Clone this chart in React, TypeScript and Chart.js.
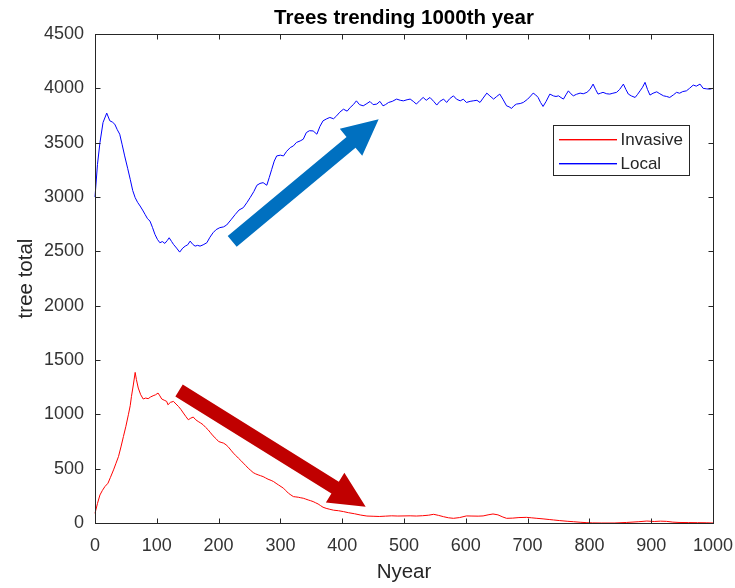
import React, { useEffect, useRef } from "react";
import { Chart, registerables } from "chart.js";

Chart.register(...registerables);

const titleText = "Trees trending 1000th year";
const xTitle = "Nyear";
const yTitle = "tree total";
const xTicks = [0, 100, 200, 300, 400, 500, 600, 700, 800, 900, 1000];
const yTicks = [0, 500, 1000, 1500, 2000, 2500, 3000, 3500, 4000, 4500];

const localYears = [
  0, 4, 8, 13, 19, 24, 28, 32, 36, 40, 44, 48, 53, 57, 61, 65, 69, 73, 77, 81, 85, 89, 93, 97, 101, 105, 109, 113, 117, 120,
  124, 127, 132, 137, 142, 146, 150, 154, 158, 162, 166, 170, 175, 181, 186, 191, 196, 202, 208, 213, 220, 227, 233, 240,
  246, 251, 257, 262, 267, 272, 278, 282, 286, 290, 294, 300, 305, 310, 316, 321, 326, 332, 337, 342, 347, 353, 359, 364,
  369, 375, 380, 386, 391, 396, 402, 408, 413, 418, 423, 428, 434, 440, 445, 450, 456, 461, 466, 470, 475, 481, 488, 494,
  499, 505, 510, 515, 520, 526, 531, 536, 542, 548, 553, 558, 564, 569, 574, 580, 585, 591, 596, 601, 607, 612, 618, 623,
  628, 634, 639, 645, 650, 655, 660, 666, 670, 674, 678, 682, 688, 693, 700, 705, 709, 713, 717, 721, 725, 730, 736, 742,
  746, 750, 754, 758, 762, 766, 770, 774, 779, 785, 790, 796, 801, 806, 810, 814, 818, 822, 828, 833, 838, 844, 849, 855,
  859, 863, 868, 874, 878, 882, 886, 890, 894, 898, 903, 909, 914, 920, 925, 930, 936, 941, 946, 951, 957, 962, 968, 973,
  979, 984, 990, 995, 1000,
];
const localValues = [
  3000, 3300, 3500, 3686, 3772, 3701, 3690, 3670, 3620, 3578, 3480, 3378, 3260, 3163, 3060, 2994, 2950, 2917, 2880, 2840,
  2800, 2778, 2720, 2656, 2610, 2579, 2590, 2573, 2600, 2625, 2590, 2564, 2530, 2493, 2530, 2548, 2560, 2594, 2565, 2548,
  2555, 2548, 2560, 2579, 2630, 2671, 2700, 2718, 2725, 2742, 2790, 2840, 2880, 2902, 2950, 2994, 3050, 3108, 3125, 3132,
  3108, 3180, 3255, 3330, 3378, 3385, 3378, 3420, 3455, 3470, 3502, 3516, 3532, 3593, 3610, 3608, 3578, 3650, 3701, 3720,
  3732, 3720, 3747, 3780, 3808, 3790, 3824, 3850, 3885, 3850, 3839, 3860, 3879, 3850, 3855, 3880, 3839, 3850, 3870, 3880,
  3901, 3890, 3885, 3895, 3901, 3880, 3855, 3890, 3916, 3890, 3916, 3880, 3846, 3880, 3901, 3870, 3905, 3931, 3900, 3885,
  3900, 3870, 3880, 3885, 3890, 3870, 3910, 3956, 3930, 3901, 3925, 3947, 3900, 3839, 3830, 3815, 3840, 3855, 3860, 3870,
  3900, 3930, 3956, 3940, 3916, 3870, 3833, 3880, 3947, 3930, 3925, 3931, 3915, 3901, 3940, 3977, 3950, 3931, 3945, 3956,
  3950, 3963, 3990, 4039, 3990, 3947, 3955, 3963, 3950, 3947, 3955, 3963, 3990, 4039, 3990, 3947, 3930, 3916, 3945, 3977,
  4010, 4055, 3990, 3938, 3955, 3968, 3950, 3931, 3925, 3916, 3940, 3963, 3955, 3970, 3977, 4000, 4030, 4020, 4039, 4000,
  3995, 3993, 4000,
];

const invasiveYears = [
  0, 4, 8, 12, 16, 21, 25, 30, 34, 38, 42, 46, 50, 54, 57, 59, 62, 65, 67, 70, 74, 78, 82, 86, 90, 94, 98, 102, 105, 108,
  112, 116, 118, 122, 127, 131, 135, 139, 143, 147, 151, 155, 159, 163, 167, 171, 175, 179, 183, 187, 191, 196, 200, 204,
  208, 212, 216, 220, 224, 228, 232, 236, 240, 244, 248, 252, 256, 260, 264, 268, 272, 276, 280, 285, 289, 293, 297, 301,
  305, 309, 313, 317, 321, 325, 329, 333, 337, 341, 345, 349, 353, 357, 361, 365, 369, 374, 380, 386, 394, 402, 410, 420,
  430, 440, 450, 460, 470, 480, 490, 500, 510, 520, 530, 540, 548, 556, 564, 572, 580, 590, 601, 610, 620, 628, 636, 644,
  652, 660, 666, 676, 686, 698, 706, 715, 725, 735, 742, 752, 764, 774, 785, 796, 805, 820, 840, 860, 880, 893, 905, 915,
  925, 935, 945, 960, 975, 990, 1000,
];
const invasiveValues = [
  89, 180, 258, 300, 335, 366, 420, 489, 550, 611, 700, 796, 890, 996, 1080, 1165, 1270, 1386, 1320, 1242, 1180, 1141,
  1150, 1144, 1160, 1171, 1180, 1196, 1170, 1141, 1130, 1119, 1088, 1110, 1119, 1095, 1073, 1045, 1012, 980, 950, 965, 975,
  950, 934, 920, 904, 880, 858, 830, 802, 775, 750, 742, 735, 720, 698, 670, 643, 620, 597, 575, 551, 528, 504, 484, 464,
  452, 443, 435, 427, 415, 403, 392, 381, 365, 350, 335, 320, 297, 274, 258, 243, 240, 237, 232, 228, 220, 212, 205, 197,
  186, 175, 160, 145, 135, 126, 118, 113, 105, 95, 85, 73, 64, 62, 60, 63, 66, 64, 65, 66, 64, 67, 72, 80, 70, 58, 48, 43,
  50, 65, 64, 63, 65, 75, 83, 75, 55, 43, 45, 50, 52, 48, 43, 38, 32, 28, 22, 16, 12, 7, 3, 1, 0, 0, 5, 12, 18, 14, 17, 15,
  8, 5, 4, 3, 2, 0,
];

const seriesLabels = ["Invasive", "Local"];
const seriesColors = ["#FF0000", "#0000FF"];

// Annotation arrows (data units): tail -> tip
const arrowTailX = [222, 136];
const arrowTailY = [2591, 1219];
const arrowTipX = [459, 438];
const arrowTipY = [3716, 150];
const arrowColors = ["#0070C0", "#C00000"];

const FONT = '"Liberation Sans", Arial, Helvetica, sans-serif';
const AXIS_COLOR = "#262626";

function drawArrow(ctx: CanvasRenderingContext2D, x0: number, y0: number, x1: number, y1: number, color: string) {
  const shaftW = 14;
  const headW = 35;
  const headL = 36;
  const dx = x1 - x0;
  const dy = y1 - y0;
  const len = Math.hypot(dx, dy);
  const ux = dx / len;
  const uy = dy / len;
  const nx = -uy;
  const ny = ux;
  const bx = x1 - ux * headL;
  const by = y1 - uy * headL;
  ctx.save();
  ctx.fillStyle = color;
  ctx.beginPath();
  ctx.moveTo(x0 + (nx * shaftW) / 2, y0 + (ny * shaftW) / 2);
  ctx.lineTo(bx + (nx * shaftW) / 2, by + (ny * shaftW) / 2);
  ctx.lineTo(bx + (nx * headW) / 2, by + (ny * headW) / 2);
  ctx.lineTo(x1, y1);
  ctx.lineTo(bx - (nx * headW) / 2, by - (ny * headW) / 2);
  ctx.lineTo(bx - (nx * shaftW) / 2, by - (ny * shaftW) / 2);
  ctx.lineTo(x0 - (nx * shaftW) / 2, y0 - (ny * shaftW) / 2);
  ctx.closePath();
  ctx.fill();
  ctx.restore();
}

const overlayPlugin = {
  id: "matlabOverlay",
  afterDatasetsDraw(chart: any) {
    const ctx: CanvasRenderingContext2D = chart.ctx;
    const a = chart.chartArea;
    const xs = chart.scales.x;
    const ys = chart.scales.y;

    // arrows
    for (let i = 0; i < arrowColors.length; i++) {
      drawArrow(
        ctx,
        xs.getPixelForValue(arrowTailX[i]),
        ys.getPixelForValue(arrowTailY[i]),
        xs.getPixelForValue(arrowTipX[i]),
        ys.getPixelForValue(arrowTipY[i]),
        arrowColors[i]
      );
    }

    const L = Math.round(a.left) + 0.5;
    const R = Math.round(a.right) + 0.5;
    const T = Math.round(a.top) + 0.5;
    const B = Math.round(a.bottom) + 0.5;

    ctx.save();
    ctx.strokeStyle = AXIS_COLOR;
    ctx.lineWidth = 1;
    ctx.strokeRect(L, T, R - L, B - T);
    const tl = 5;
    ctx.beginPath();
    for (const v of xTicks) {
      const px = Math.round(xs.getPixelForValue(v)) + 0.5;
      ctx.moveTo(px, B);
      ctx.lineTo(px, B - tl);
      ctx.moveTo(px, T);
      ctx.lineTo(px, T + tl);
    }
    for (const v of yTicks) {
      const py = Math.round(ys.getPixelForValue(v)) + 0.5;
      ctx.moveTo(L, py);
      ctx.lineTo(L + tl, py);
      ctx.moveTo(R, py);
      ctx.lineTo(R - tl, py);
    }
    ctx.stroke();

    // title
    const cx = (a.left + a.right) / 2;
    ctx.fillStyle = "#000";
    ctx.textAlign = "center";
    ctx.textBaseline = "middle";
    ctx.font = `bold 20.5px ${FONT}`;
    ctx.fillText(titleText, cx, 18);

    // axis titles
    ctx.fillStyle = AXIS_COLOR;
    ctx.font = `20.5px ${FONT}`;
    ctx.fillText(xTitle, cx, 572);
    ctx.save();
    ctx.translate(26, (a.top + a.bottom) / 2);
    ctx.rotate(-Math.PI / 2);
    ctx.fillText(yTitle, 0, 0);
    ctx.restore();

    // legend
    const bw = 136;
    const bh = 50;
    const bxL = Math.round(a.right) - 24 - bw + 0.5;
    const byT = Math.round(a.top) + 91 + 0.5;
    ctx.fillStyle = "#fff";
    ctx.fillRect(bxL, byT, bw, bh);
    ctx.strokeStyle = AXIS_COLOR;
    ctx.strokeRect(bxL, byT, bw, bh);
    ctx.font = `17px ${FONT}`;
    ctx.textAlign = "left";
    for (let i = 0; i < seriesLabels.length; i++) {
      const ly = Math.round(byT + 13 + i * 24.5);
      ctx.fillStyle = seriesColors[i];
      ctx.fillRect(Math.round(bxL) + 5, ly, 58, 1.4);
      ctx.fillStyle = AXIS_COLOR;
      ctx.fillText(seriesLabels[i], bxL + 67, ly + 1.5);
    }
    ctx.restore();
  },
};

export default function App() {
  const canvasRef = useRef<HTMLCanvasElement | null>(null);

  useEffect(() => {
    const canvas = canvasRef.current;
    if (!canvas) return;
    const chart = new Chart(canvas, {
      type: "line",
      data: {
        datasets: [
          {
            label: seriesLabels[0],
            data: invasiveYears.map((yr, i) => ({ x: yr, y: invasiveValues[i] })),
            borderColor: seriesColors[0],
            borderWidth: 1,
            pointRadius: 0,
            tension: 0,
            fill: false,
            clip: false,
          },
          {
            label: seriesLabels[1],
            data: localYears.map((yr, i) => ({ x: yr, y: localValues[i] })),
            borderColor: seriesColors[1],
            borderWidth: 1,
            pointRadius: 0,
            tension: 0,
            fill: false,
            clip: false,
          },
        ],
      },
      options: {
        responsive: false,
        animation: false,
        devicePixelRatio: 1,
        layout: { padding: { top: 34, right: 22, bottom: 0, left: 0 } },
        plugins: {
          legend: { display: false },
          title: { display: false },
          tooltip: { enabled: false },
        },
        scales: {
          x: {
            type: "linear",
            min: 0,
            max: 1000,
            afterBuildTicks: (s: any) => {
              s.ticks = xTicks.map((v) => ({ value: v }));
            },
            ticks: {
              color: "#333",
              font: { family: FONT, size: 18 },
              padding: 12,
              maxRotation: 0,
              autoSkip: false,
              callback: (v: any) => String(v),
            },
            grid: { display: false, drawTicks: false },
            border: { display: false },
            afterFit: (s: any) => {
              s.height = 65;
              s.paddingLeft = 0;
              s.paddingRight = 0;
            },
          },
          y: {
            type: "linear",
            min: 0,
            max: 4500,
            afterBuildTicks: (s: any) => {
              s.ticks = yTicks.map((v) => ({ value: v }));
            },
            ticks: {
              color: "#333",
              font: { family: FONT, size: 18 },
              padding: 11,
              autoSkip: false,
              callback: (v: any) => String(v),
            },
            grid: { display: false, drawTicks: false },
            border: { display: false },
            afterFit: (s: any) => {
              s.width = 95;
              s.paddingTop = 0;
              s.paddingBottom = 0;
            },
          },
        },
      },
      plugins: [overlayPlugin],
    } as any);
    return () => chart.destroy();
  }, []);

  return (
    <div style={{ position: "fixed", left: 0, top: 0, width: 735, height: 588, background: "#fff" }}>
      <canvas ref={canvasRef} width={735} height={588} style={{ display: "block" }} />
    </div>
  );
}
